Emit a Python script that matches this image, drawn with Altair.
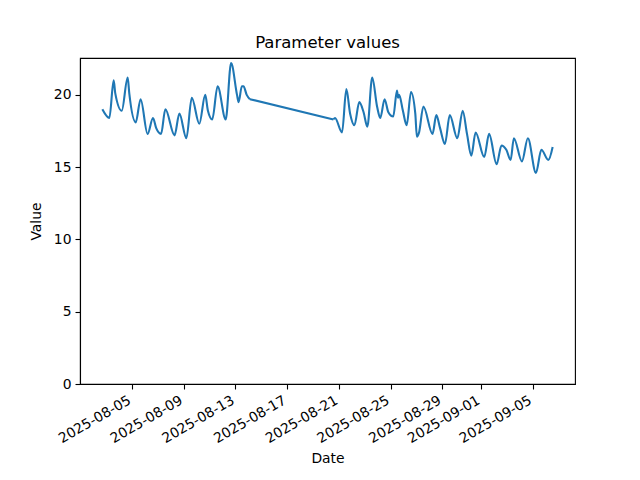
import altair as alt
import pandas as pd

dates = [
    "2025-08-02T17:00", "2025-08-03T06:00", "2025-08-03T14:00", "2025-08-03T17:00", "2025-08-04T05:00",
    "2025-08-04T16:00", "2025-08-04T19:00", "2025-08-05T07:00", "2025-08-05T16:00", "2025-08-06T05:00",
    "2025-08-06T15:00", "2025-08-06T21:00", "2025-08-07T06:00", "2025-08-07T14:00", "2025-08-08T07:00",
    "2025-08-08T16:00", "2025-08-09T05:00", "2025-08-09T15:00", "2025-08-10T05:00", "2025-08-10T16:00",
    "2025-08-10T21:00", "2025-08-11T05:00", "2025-08-11T15:00", "2025-08-12T06:00", "2025-08-12T16:00",
    "2025-08-13T03:00", "2025-08-13T06:00", "2025-08-13T12:00", "2025-08-13T15:00", "2025-08-13T21:00",
    "2025-08-14T03:00",
    "2025-08-20T14:00", "2025-08-20T17:00", "2025-08-21T06:00", "2025-08-21T14:00", "2025-08-21T21:00",
    "2025-08-22T05:00", "2025-08-22T14:00", "2025-08-22T22:00", "2025-08-23T05:00", "2025-08-23T14:00",
    "2025-08-23T23:00", "2025-08-24T05:00", "2025-08-24T13:00", "2025-08-24T20:00", "2025-08-25T05:00",
    "2025-08-25T12:00", "2025-08-25T14:00", "2025-08-25T16:00", "2025-08-25T23:00", "2025-08-26T06:00",
    "2025-08-26T14:00", "2025-08-26T22:00", "2025-08-27T01:00", "2025-08-27T05:00", "2025-08-27T13:00",
    "2025-08-28T06:00", "2025-08-28T13:00", "2025-08-28T20:00", "2025-08-29T05:00", "2025-08-29T14:00",
    "2025-08-30T04:00", "2025-08-30T14:00", "2025-08-30T22:00", "2025-08-31T06:00", "2025-08-31T14:00",
    "2025-09-01T06:00", "2025-09-01T15:00", "2025-09-02T05:00", "2025-09-02T14:00", "2025-09-02T23:00",
    "2025-09-03T07:00", "2025-09-03T13:00", "2025-09-04T04:00", "2025-09-04T15:00", "2025-09-05T06:00",
    "2025-09-05T16:00", "2025-09-06T05:00", "2025-09-06T13:00",
]

values = [
    19.0, 18.4, 21.0, 20.1, 18.9, 21.2, 20.1, 18.1, 19.7, 17.3,
    18.4, 17.7, 17.3, 19.0, 17.2, 18.7, 17.0, 19.8, 18.0, 20.0,
    18.9, 18.3, 20.6, 18.3, 22.2, 20.0, 19.5, 20.6, 20.6, 20.0,
    19.7,
    18.3, 18.4, 17.4, 20.4, 18.7, 17.9, 19.5, 18.8, 17.8, 21.2,
    19.2, 18.4, 19.7, 18.8, 18.5, 20.3, 19.8, 20.0, 18.9, 17.9,
    20.2, 18.7, 17.1, 17.4, 19.2, 17.3, 18.6, 17.7, 16.6, 18.6,
    17.0, 18.9, 17.3, 15.8, 17.4, 15.7, 17.3, 15.2, 16.5, 16.2,
    15.5, 17.0, 15.4, 17.0, 14.6, 16.2, 15.5, 16.4,
]

# index of the last reading before the gap in the record
gap_index = 30

tick_dates = [(8, 5), (8, 9), (8, 13), (8, 17), (8, 21), (8, 25), (8, 29), (9, 1), (9, 5)]
y_ticks = [0, 5, 10, 15, 20]

df = pd.DataFrame({"Date": dates, "Value": values})
df["idx"] = range(len(df))

FONT = "DejaVu Sans"
BLUE = "#1f77b4"

x_enc = alt.X(
    "Date:T",
    title="Date",
    scale=alt.Scale(domain=[
        alt.DateTime(year=2025, month=7, date=31, hours=23, minutes=30),
        alt.DateTime(year=2025, month=9, date=8, hours=6, minutes=30),
    ]),
    axis=alt.Axis(
        values=[alt.DateTime(year=2025, month=m, date=d) for m, d in tick_dates],
        format="%Y-%m-%d",
        labelAngle=-30,
        labelAlign="right",
        labelBaseline="top",
        labelPadding=4,
        labelOffset=-6,
        labelOverlap=False,
        labelFlush=False,
        titlePadding=6,
    ),
)
y_enc = alt.Y(
    "Value:Q",
    title="Value",
    scale=alt.Scale(domain=[0, 22.55], nice=False, zero=True),
    axis=alt.Axis(values=y_ticks, titlePadding=10, labelPadding=4),
)

base = alt.Chart(df).encode(x=x_enc, y=y_enc, order="idx:Q")

seg1 = base.transform_filter(alt.datum.idx <= gap_index).mark_line(
    color=BLUE, strokeWidth=2.1, interpolate="monotone")
bridge = base.transform_filter(
    (alt.datum.idx >= gap_index) & (alt.datum.idx <= gap_index + 1)
).mark_line(color=BLUE, strokeWidth=2.1)
seg2 = base.transform_filter(alt.datum.idx > gap_index).mark_line(
    color=BLUE, strokeWidth=2.1, interpolate="monotone")

chart = (
    alt.layer(seg1, bridge, seg2)
    .properties(
        title=alt.Title("Parameter values", fontSize=16.5, fontWeight="normal",
                        font=FONT, color="black", offset=7),
        width=495,
        height=326,
        autosize=alt.AutoSizeParams(type="none"),
        padding={"left": 72, "top": 50, "right": 57, "bottom": 88},
    )
    .configure_axis(
        grid=False,
        domainColor="black",
        domainWidth=1.1,
        tickColor="black",
        tickWidth=1.1,
        tickSize=5,
        labelFont=FONT,
        labelFontSize=13.9,
        labelColor="black",
        titleFont=FONT,
        titleFontSize=13.9,
        titleFontWeight="normal",
        titleColor="black",
    )
    .configure_view(stroke="black", strokeWidth=1.1)
)

chart.save("out.html", embed_options={"renderer": "svg", "actions": False})
